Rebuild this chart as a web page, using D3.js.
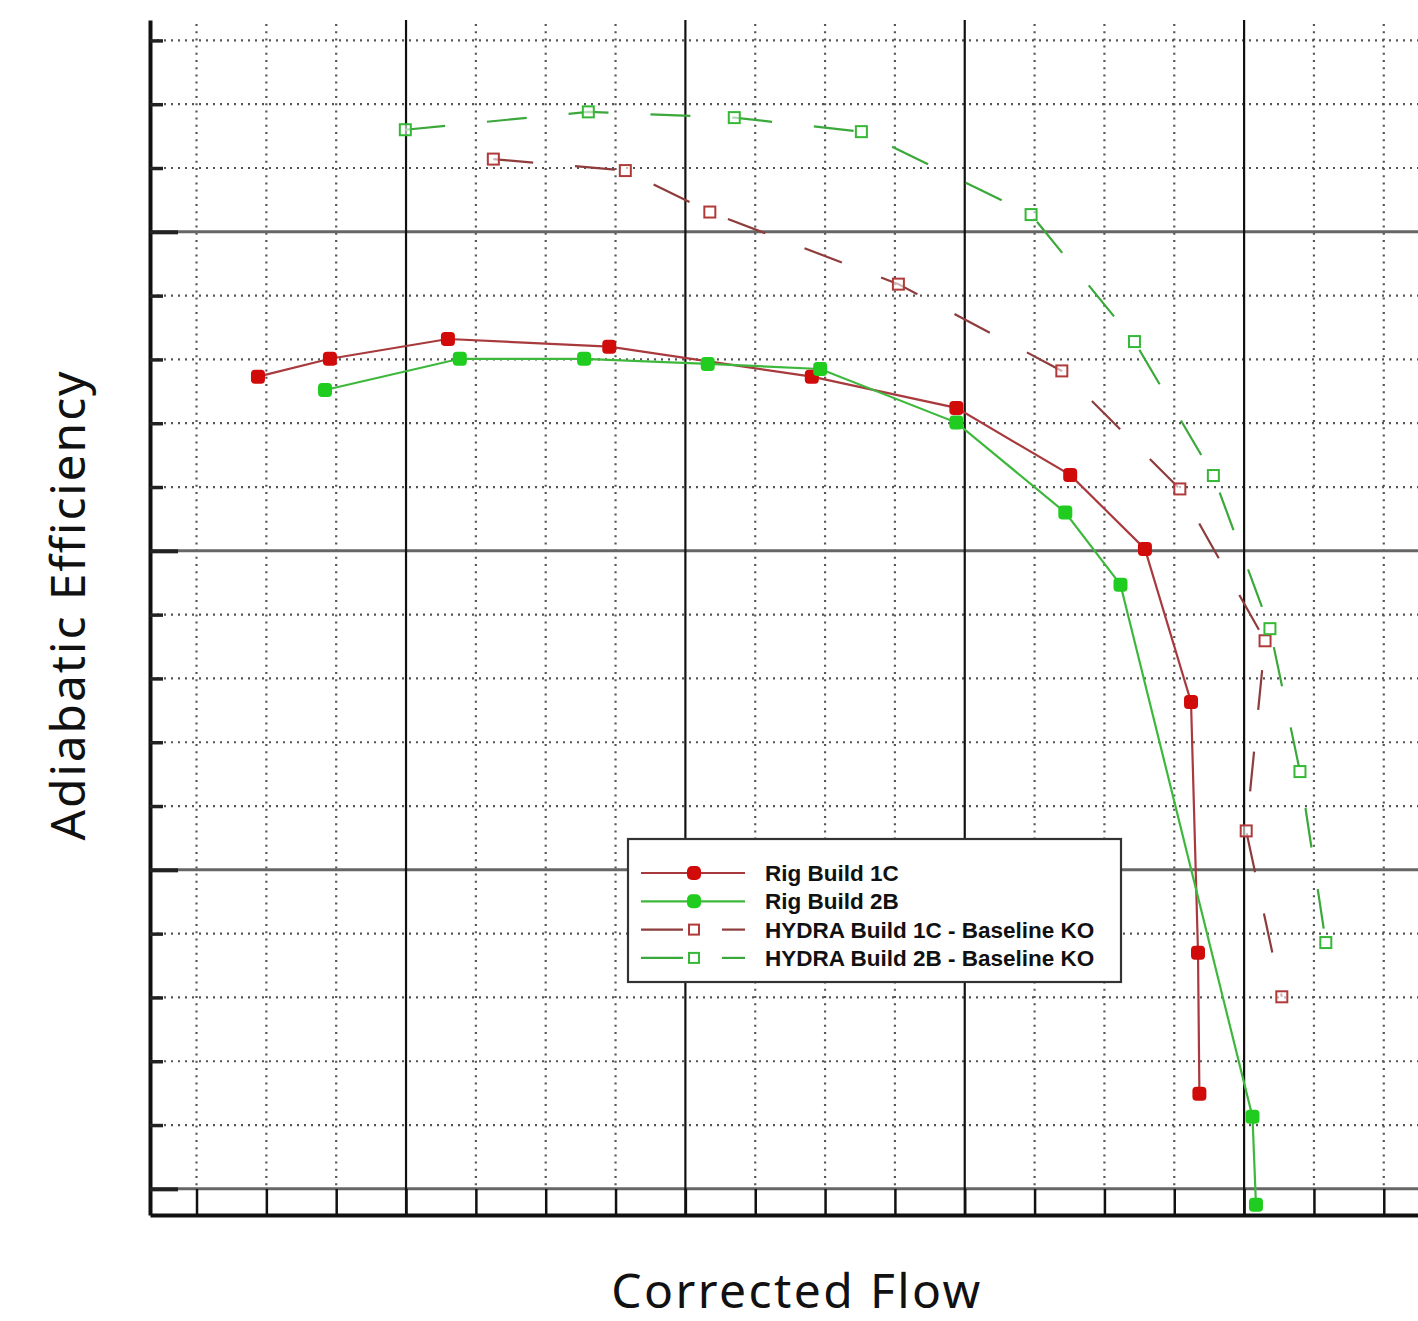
<!DOCTYPE html>
<html>
<head>
<meta charset="utf-8">
<script src="https://cdn.jsdelivr.net/npm/d3@7"></script>
<style>
  html, body { margin: 0; padding: 0; background: #fff; }
  svg { display: block; }
</style>
</head>
<body>
<svg id="chart" width="1418" height="1321"></svg>
<script>
// ---------- data (grid units: x minor = 1, y minor = 1) ----------
const seriesNames = ["Rig Build 1C", "Rig Build 2B", "HYDRA Build 1C - Baseline KO", "HYDRA Build 2B - Baseline KO"];

const rig1cFlow = [1.88, 2.91, 4.60, 6.91, 9.81, 11.88, 13.51, 14.58, 15.24, 15.34, 15.36];
const rig1cEff  = [92.73, 93.01, 93.32, 93.20, 92.73, 92.24, 91.19, 90.03, 87.63, 83.70, 81.49];

const rig2bFlow = [2.84, 4.77, 6.55, 8.32, 9.93, 11.88, 13.44, 14.23, 16.12, 16.17];
const rig2bEff  = [92.52, 93.01, 93.01, 92.93, 92.85, 92.01, 90.60, 89.47, 81.13, 79.75];

const hydra1cFlow = [5.25, 7.14, 8.35, 11.05, 13.39, 15.08, 16.30, 16.03, 16.54];
const hydra1cEff  = [96.14, 95.96, 95.31, 94.18, 92.82, 90.97, 88.59, 85.61, 83.01];

const hydra2bFlow = [3.99, 6.61, 8.70, 10.52, 12.95, 14.43, 15.56, 16.37, 16.80, 17.17];
const hydra2bEff  = [96.60, 96.88, 96.79, 96.57, 95.27, 93.28, 91.18, 88.78, 86.54, 83.86];

const xMinorTicks = d3.range(1, 19);
const xMajorTicks = [4, 8, 12, 16];
const yMinorTicks = d3.range(80, 99);
const yMajorTicks = [80, 85, 90, 95];

const xTitle = "Corrected Flow";
const yTitle = "Adiabatic Efficiency";

// ---------- layout ----------
const pLeft = 150, pRight = 1418, pTop = 20, pBottom = 1215;
const svg = d3.select("#chart");

const x = d3.scaleLinear().domain([0.334, 18.49]).range([pLeft, pRight]);
const y = d3.scaleLinear().domain([79.59, 98.32]).range([pBottom, pTop]);

const toPts = (xs, ys) => xs.map((v, i) => [v, ys[i]]);
const series = [
  { name: seriesNames[0], pts: toPts(rig1cFlow, rig1cEff), line: "#a83a3e", mark: "#d10a0a", filled: true, dash: null },
  { name: seriesNames[1], pts: toPts(rig2bFlow, rig2bEff), line: "#3db83d", mark: "#1fcc1f", filled: true, dash: null },
  { name: seriesNames[2], pts: toPts(hydra1cFlow, hydra1cEff), line: "#8e3c3c", mark: "#b03a3a", filled: false, dash: "40,42" },
  { name: seriesNames[3], pts: toPts(hydra2bFlow, hydra2bEff), line: "#3aa83a", mark: "#35b835", filled: false, dash: "40,42" }
];

svg.append("defs").append("clipPath").attr("id", "plotclip")
  .append("rect").attr("x", pLeft).attr("y", pTop).attr("width", pRight - pLeft).attr("height", pBottom - pTop);

const grid = svg.append("g");

// minor dotted grid
grid.selectAll("line.vminor").data(xMinorTicks.filter(d => !xMajorTicks.includes(d))).join("line")
  .attr("x1", d => x(d)).attr("x2", d => x(d)).attr("y1", pTop + 4).attr("y2", pBottom - 28)
  .attr("stroke", "#555").attr("stroke-width", 2.2).attr("stroke-dasharray", "2,5.2");
grid.selectAll("line.hminor").data(yMinorTicks.filter(d => !yMajorTicks.includes(d))).join("line")
  .attr("y1", d => y(d)).attr("y2", d => y(d)).attr("x1", pLeft).attr("x2", pRight)
  .attr("stroke", "#555").attr("stroke-width", 2.2).attr("stroke-dasharray", "2,5");

// major lines
grid.selectAll("line.hmajor").data(yMajorTicks).join("line")
  .attr("y1", d => y(d)).attr("y2", d => y(d)).attr("x1", pLeft).attr("x2", pRight)
  .attr("stroke", "#666").attr("stroke-width", 3);
grid.selectAll("line.vmajor").data(xMajorTicks).join("line")
  .attr("x1", d => x(d)).attr("x2", d => x(d)).attr("y1", pTop).attr("y2", pBottom)
  .attr("stroke", "#111").attr("stroke-width", 2.2);

// axes
const xAxis = d3.axisBottom(x).tickValues(xMinorTicks).tickSize(-26).tickFormat("").tickSizeOuter(0);
const gx = svg.append("g").attr("transform", `translate(0,${pBottom})`).call(xAxis);
gx.select(".domain").attr("stroke", "#111").attr("stroke-width", 4);
gx.selectAll(".tick line").attr("stroke", "#111").attr("stroke-width", 2.5);

const yAxisMinor = d3.axisLeft(y).tickValues(yMinorTicks.filter(d => !yMajorTicks.includes(d))).tickSize(-13).tickFormat("").tickSizeOuter(0);
const gy = svg.append("g").attr("transform", `translate(${pLeft},0)`).call(yAxisMinor);
gy.select(".domain").attr("stroke", "#111").attr("stroke-width", 4);
gy.selectAll(".tick line").attr("stroke", "#222").attr("stroke-width", 3.5);
const yAxisMajor = d3.axisLeft(y).tickValues(yMajorTicks).tickSize(-28).tickFormat("").tickSizeOuter(0);
const gy2 = svg.append("g").attr("transform", `translate(${pLeft},0)`).call(yAxisMajor);
gy2.select(".domain").remove();
gy2.selectAll(".tick line").attr("stroke", "#222").attr("stroke-width", 4);

// series
const plot = svg.append("g").attr("clip-path", "url(#plotclip)");
const lineGen = d3.line().x(d => x(d[0])).y(d => y(d[1]));

series.forEach(s => {
  plot.append("path").attr("d", lineGen(s.pts)).attr("fill", "none")
    .attr("stroke", s.line).attr("stroke-width", 2.2)
    .attr("stroke-dasharray", s.dash);
});
series.forEach(s => {
  const g = plot.append("g");
  if (s.filled) {
    g.selectAll("rect").data(s.pts).join("rect")
      .attr("x", d => x(d[0]) - 7).attr("y", d => y(d[1]) - 7)
      .attr("width", 14).attr("height", 14).attr("rx", 4)
      .attr("fill", s.mark);
  } else {
    g.selectAll("rect").data(s.pts).join("rect")
      .attr("x", d => x(d[0]) - 5.5).attr("y", d => y(d[1]) - 5.5)
      .attr("width", 11).attr("height", 11)
      .attr("fill", "#fff").attr("fill-opacity", 0.6)
      .attr("stroke", s.mark).attr("stroke-width", 2);
  }
});

// legend
const lg = svg.append("g");
lg.append("rect").attr("x", 628).attr("y", 839).attr("width", 493).attr("height", 143)
  .attr("fill", "#fff").attr("stroke", "#333").attr("stroke-width", 2.2);
series.forEach((s, i) => {
  const cy = 873 + i * 28.3;
  if (s.dash) {
    lg.append("line").attr("x1", 641).attr("x2", 683).attr("y1", cy).attr("y2", cy)
      .attr("stroke", s.line).attr("stroke-width", 2.2);
    lg.append("line").attr("x1", 722).attr("x2", 745).attr("y1", cy).attr("y2", cy)
      .attr("stroke", s.line).attr("stroke-width", 2.2);
    lg.append("rect").attr("x", 689).attr("y", cy - 5).attr("width", 10).attr("height", 10)
      .attr("fill", "#fff").attr("stroke", s.mark).attr("stroke-width", 2);
  } else {
    lg.append("line").attr("x1", 641).attr("x2", 745).attr("y1", cy).attr("y2", cy)
      .attr("stroke", s.line).attr("stroke-width", 2.2);
    lg.append("rect").attr("x", 687).attr("y", cy - 7).attr("width", 14).attr("height", 14).attr("rx", 5)
      .attr("fill", s.mark);
  }
  lg.append("text").attr("x", 765).attr("y", cy + 8)
    .attr("font-family", "Liberation Sans, Arial, sans-serif").attr("font-weight", "bold")
    .attr("font-size", 22.5).attr("fill", "#111").text(s.name);
});

// titles
svg.append("text").attr("x", 797).attr("y", 1308).attr("text-anchor", "middle")
  .attr("font-family", "Noto Sans, sans-serif").attr("font-size", 48).attr("letter-spacing", 2.4)
  .attr("fill", "#111").text(xTitle);
svg.append("text").attr("transform", "translate(85,605) rotate(-90)").attr("text-anchor", "middle")
  .attr("font-family", "Noto Sans, sans-serif").attr("font-size", 48).attr("letter-spacing", 1.9)
  .attr("fill", "#111").text(yTitle);
</script>
</body>
</html>
